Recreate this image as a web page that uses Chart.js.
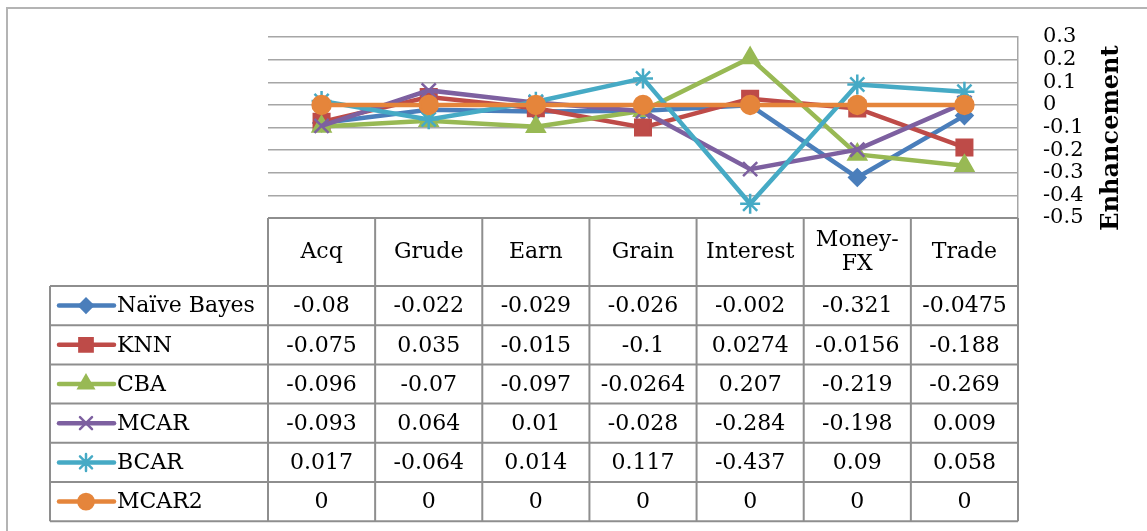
<!DOCTYPE html>
<html lang="en">
<head>
    <meta charset="UTF-8">
    <title>Enhancement</title>
    <script src="https://cdn.jsdelivr.net/npm/chart.js"></script>
    <style>
        html, body { margin: 0; padding: 0; background: #fff; }
        #wrap { width: 1147px; height: 531px; position: relative; }
    </style>
</head>
<body>
    <div id="wrap"><canvas id="enhChart" width="1147" height="531"></canvas></div>
    <script>
        const categories = ['Acq', 'Grude', 'Earn', 'Grain', 'Interest', ['Money-', 'FX'], 'Trade'];
        const naiveBayes = [-0.08, -0.022, -0.029, -0.026, -0.002, -0.321, -0.0475];
        const knn        = [-0.075, 0.035, -0.015, -0.1, 0.0274, -0.0156, -0.188];
        const cba        = [-0.096, -0.07, -0.097, -0.0264, 0.207, -0.219, -0.269];
        const mcar       = [-0.093, 0.064, 0.01, -0.028, -0.284, -0.198, 0.009];
        const bcar       = [0.017, -0.064, 0.014, 0.117, -0.437, 0.09, 0.058];
        const mcar2      = [0, 0, 0, 0, 0, 0, 0];
        const seriesNames = ['Naïve Bayes', 'KNN', 'CBA', 'MCAR', 'BCAR', 'MCAR2'];

        const serif = "'DejaVu Serif', 'Liberation Serif', serif";
        const gridGray = '#a6a6a6';
        const tableGray = '#8e8e8e';

        const estilos = [
            { color: '#4a7ebb', point: 'rectRot', radius: 8 },
            { color: '#be4b48', point: 'rect', radius: 11 },
            { color: '#98b954', point: 'triangle', radius: 10 },
            { color: '#7d60a0', point: 'crossRot', radius: 10 },
            { color: '#46aac5', point: 'star', radius: 10 },
            { color: '#e5853b', point: 'circle', radius: 9 }
        ];
        const valores = [naiveBayes, knn, cba, mcar, bcar, mcar2];

        const datasets = valores.map((v, i) => ({
            label: seriesNames[i],
            data: v,
            borderColor: estilos[i].color,
            backgroundColor: estilos[i].color,
            pointBorderColor: estilos[i].color,
            pointBackgroundColor: estilos[i].color,
            pointStyle: estilos[i].point,
            pointRadius: estilos[i].radius,
            pointBorderWidth: 2.5,
            borderWidth: 4.5,
            tension: 0,
            order: 5 - i
        }));

        // moldura + titulo do eixo
        const framePlugin = {
            id: 'frame',
            beforeDraw(chart) {
                const ctx = chart.ctx;
                ctx.save();
                ctx.strokeStyle = '#b4b4b4';
                ctx.lineWidth = 2;
                ctx.beginPath();
                ctx.moveTo(7, 531);
                ctx.lineTo(7, 8);
                ctx.lineTo(1147, 8);
                ctx.stroke();
                ctx.restore();
            },
            afterDraw(chart) {
                const ctx = chart.ctx;
                ctx.save();
                ctx.translate(1112, 138);
                ctx.rotate(-Math.PI / 2);
                ctx.fillStyle = '#000';
                ctx.font = 'bold 24px ' + serif;
                ctx.textAlign = 'center';
                ctx.textBaseline = 'middle';
                ctx.fillText('Enhancement', 0, 0);
                ctx.restore();
            }
        };

        // tabela de dados embaixo do grafico
        const tablePlugin = {
            id: 'dataTable',
            afterDraw(chart) {
                const ctx = chart.ctx;
                const area = chart.chartArea;
                const xs = chart.scales.x;
                const n = categories.length;
                const colW = (area.right - area.left) / n;
                const top = area.bottom;
                const headH = 68, rowH = 39.2, legL = 50;
                const bodyTop = top + headH;
                const bottom = bodyTop + rowH * seriesNames.length;

                ctx.save();
                ctx.strokeStyle = tableGray;
                ctx.lineWidth = 2;
                ctx.beginPath();
                // verticais
                for (let c = 0; c <= n; c++) {
                    const x = area.left + c * colW;
                    ctx.moveTo(x, top);
                    ctx.lineTo(x, bottom);
                }
                ctx.moveTo(legL, bodyTop);
                ctx.lineTo(legL, bottom);
                // horizontais
                ctx.moveTo(area.left, top);
                ctx.lineTo(area.right, top);
                for (let r = 0; r <= seriesNames.length; r++) {
                    const y = bodyTop + r * rowH;
                    ctx.moveTo(legL, y);
                    ctx.lineTo(area.right, y);
                }
                ctx.stroke();

                ctx.fillStyle = '#000';
                ctx.font = '22px ' + serif;
                ctx.textAlign = 'center';
                ctx.textBaseline = 'middle';
                categories.forEach((cat, c) => {
                    const cx = xs.getPixelForValue(c);
                    if (Array.isArray(cat)) {
                        ctx.fillText(cat[0], cx, top + headH / 2 - 12);
                        ctx.fillText(cat[1], cx, top + headH / 2 + 12);
                    } else {
                        ctx.fillText(cat, cx, top + headH / 2);
                    }
                });

                valores.forEach((v, r) => {
                    const cy = bodyTop + r * rowH + rowH / 2 + 1;
                    v.forEach((val, c) => {
                        ctx.textAlign = 'center';
                        ctx.fillText(String(val), xs.getPixelForValue(c), cy);
                    });
                    // chave da legenda
                    const st = estilos[r];
                    ctx.strokeStyle = st.color;
                    ctx.lineWidth = 4.5;
                    ctx.lineCap = 'round';
                    ctx.beginPath();
                    ctx.moveTo(59, cy - 1);
                    ctx.lineTo(114, cy - 1);
                    ctx.stroke();
                    ctx.fillStyle = st.color;
                    ctx.lineWidth = 2.5;
                    Chart.helpers.drawPoint(ctx, { pointStyle: st.point, radius: st.radius * 0.85, borderWidth: 2.5 }, 86, cy - 1);
                    ctx.fillStyle = '#000';
                    ctx.textAlign = 'left';
                    ctx.fillText(seriesNames[r], 117, cy);
                });
                ctx.restore();
            }
        };

        new Chart(document.getElementById('enhChart').getContext('2d'), {
            type: 'line',
            data: { labels: categories, datasets: datasets },
            options: {
                responsive: false,
                animation: false,
                layout: { padding: { left: 268, top: 37, bottom: 313, right: 0 } },
                plugins: { legend: { display: false }, tooltip: { enabled: false } },
                scales: {
                    x: { display: false, offset: true },
                    y: {
                        position: 'right',
                        min: -0.5,
                        max: 0.3,
                        afterFit(scale) { scale.width = 129; },
                        ticks: {
                            stepSize: 0.1,
                            autoSkip: false,
                            padding: 25,
                            color: '#000',
                            font: { family: serif, size: 21, lineHeight: 1 },
                            callback: v => String(Math.round(v * 10) / 10)
                        },
                        grid: { color: gridGray, lineWidth: 1.5, drawTicks: false },
                        border: { display: true, color: gridGray, width: 1.5 }
                    }
                }
            },
            plugins: [framePlugin, tablePlugin]
        });
    </script>
</body>
</html>
